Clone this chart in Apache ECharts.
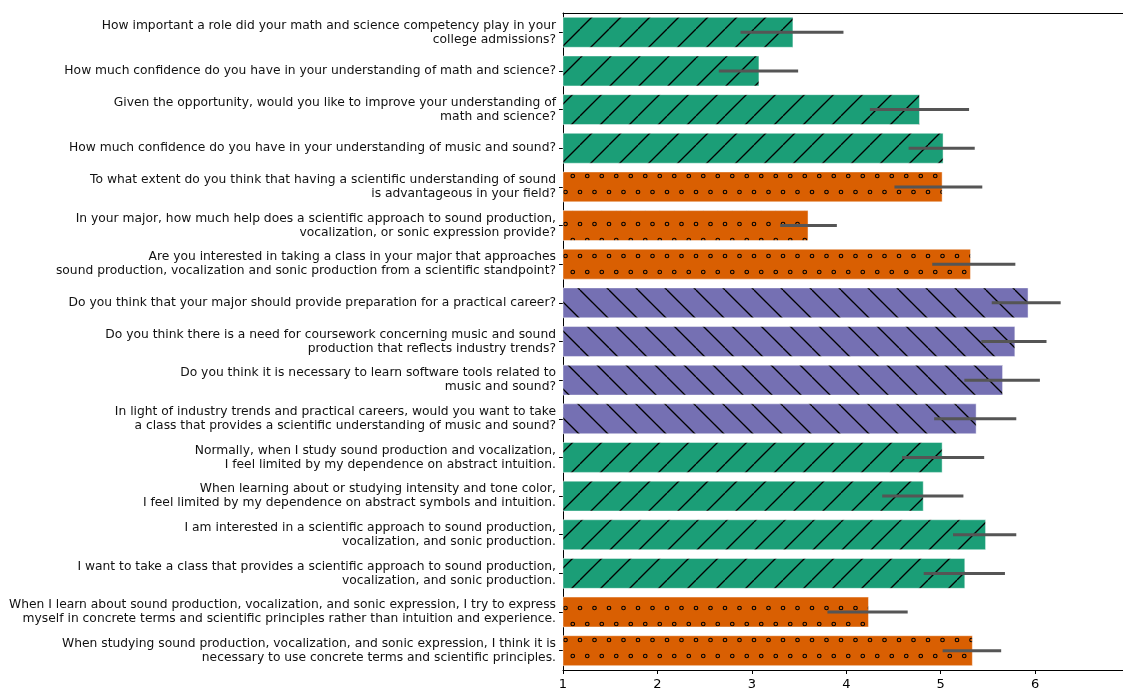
<!DOCTYPE html>
<html lang="en">
<head>
    <meta charset="UTF-8">
    <title>Survey responses</title>
    <script src="https://cdn.jsdelivr.net/npm/echarts@6/dist/echarts.min.js"></script>
    <style>
        body, html { margin: 0; padding: 0; height: 100%; background: #fff; }
        #main { width: 1123px; height: 692px; }
    </style>
</head>
<body>
    <div id="main"></div>
    <script>
        // questions, top to bottom
        var questions = [
            'How important a role did your math and science competency play in your\ncollege admissions?',
            'How much confidence do you have in your understanding of math and science?',
            'Given the opportunity, would you like to improve your understanding of\nmath and science?',
            'How much confidence do you have in your understanding of music and sound?',
            'To what extent do you think that having a scientific understanding of sound\nis advantageous in your field?',
            'In your major, how much help does a scientific approach to sound production,\nvocalization, or sonic expression provide?',
            'Are you interested in taking a class in your major that approaches\nsound production, vocalization and sonic production from a scientific standpoint?',
            'Do you think that your major should provide preparation for a practical career?',
            'Do you think there is a need for coursework concerning music and sound\nproduction that reflects industry trends?',
            'Do you think it is necessary to learn software tools related to\nmusic and sound?',
            'In light of industry trends and practical careers, would you want to take\na class that provides a scientific understanding of music and sound?',
            'Normally, when I study sound production and vocalization,\nI feel limited by my dependence on abstract intuition.',
            'When learning about or studying intensity and tone color,\nI feel limited by my dependence on abstract symbols and intuition.',
            'I am interested in a scientific approach to sound production,\nvocalization, and sonic production.',
            'I want to take a class that provides a scientific approach to sound production,\nvocalization, and sonic production.',
            'When I learn about sound production, vocalization, and sonic expression, I try to express\nmyself in concrete terms and scientific principles rather than intuition and experience.',
            'When studying sound production, vocalization, and sonic expression, I think it is\nnecessary to use concrete terms and scientific principles.'
        ];
        var means   = [3.44, 3.08, 4.78, 5.03, 5.02, 3.60, 5.32, 5.93, 5.79, 5.66, 5.38, 5.02, 4.82, 5.48, 5.26, 4.24, 5.34];
        var errLow  = [2.88, 2.65, 4.25, 4.66, 4.51, 3.30, 4.91, 5.54, 5.43, 5.25, 4.93, 4.59, 4.38, 5.13, 4.82, 3.80, 5.02];
        var errHigh = [3.97, 3.49, 5.30, 5.36, 5.44, 3.90, 5.79, 6.27, 6.12, 6.05, 5.80, 5.46, 5.24, 5.80, 5.68, 4.65, 5.64];
        var groups  = ['g', 'g', 'g', 'g', 'o', 'o', 'o', 'p', 'p', 'p', 'p', 'g', 'g', 'g', 'g', 'o', 'o'];
        var xTicks  = [1, 2, 3, 4, 5, 6];

        function makeTile(w, h, bg, draw) {
            var c = document.createElement('canvas');
            c.width = w;
            c.height = h;
            var ctx = c.getContext('2d');
            ctx.fillStyle = bg;
            ctx.fillRect(0, 0, w, h);
            ctx.strokeStyle = '#000';
            ctx.lineWidth = 1.3;
            draw(ctx, w, h);
            return { image: c, repeat: 'repeat' };
        }

        // '/' hatch
        var greenFill = makeTile(29, 29, '#1b9e77', function (ctx, w, h) {
            for (var k = -1; k <= 1; k++) {
                ctx.beginPath();
                ctx.moveTo(k * w, h);
                ctx.lineTo(k * w + w, 0);
                ctx.stroke();
            }
        });
        // '\' hatch
        var purpleFill = makeTile(29, 29, '#7570b3', function (ctx, w, h) {
            for (var k = -1; k <= 1; k++) {
                ctx.beginPath();
                ctx.moveTo(k * w, 0);
                ctx.lineTo(k * w + w, h);
                ctx.stroke();
            }
        });
        // small circles, staggered rows
        var orangeFill = makeTile(29, 32, '#d95f02', function (ctx, w, h) {
            ctx.lineWidth = 1.1;
            var pts = [[0, 0], [14.5, 0], [7.25, 16], [21.75, 16]];
            pts.forEach(function (p) {
                for (var dx = -1; dx <= 1; dx++) {
                    for (var dy = -1; dy <= 1; dy++) {
                        ctx.beginPath();
                        ctx.arc(p[0] + dx * w, p[1] + dy * h, 1.8, 0, Math.PI * 2);
                        ctx.stroke();
                    }
                }
            });
        });
        var fills = { g: greenFill, o: orangeFill, p: purpleFill };

        var barData = [];
        var errData = [];
        for (var i = 0; i < means.length; i++) {
            barData.push({
                value: means[i],
                itemStyle: { color: fills[groups[i]] }
            });
            errData.push([errLow[i], errHigh[i], i]);
        }

        var myChart = echarts.init(document.getElementById('main'));
        var option = {
            animation: false,
            textStyle: { fontFamily: 'DejaVu Sans' },
            grid: { left: 563, right: 0, top: 13, bottom: 22 },
            xAxis: [
                {
                    type: 'value',
                    min: 1,
                    max: 6.93,
                    interval: 1,
                    axisLine: { show: true, lineStyle: { color: '#000', width: 1 } },
                    axisTick: { show: true, length: 4, lineStyle: { color: '#000' } },
                    axisLabel: {
                        color: '#000', fontSize: 13, margin: 8, showMaxLabel: false,
                        formatter: function (v) { return xTicks.indexOf(v) >= 0 ? String(v) : ''; }
                    },
                    splitLine: { show: false }
                },
                {
                    type: 'value',
                    position: 'top',
                    min: 1,
                    max: 6.93,
                    axisLine: { show: true, lineStyle: { color: '#000', width: 1 } },
                    axisTick: { show: false },
                    axisLabel: { show: false },
                    splitLine: { show: false }
                }
            ],
            yAxis: {
                type: 'category',
                inverse: true,
                data: questions,
                axisLine: { show: true, lineStyle: { color: '#000', width: 1 } },
                axisTick: { show: true, alignWithLabel: true, length: 4, lineStyle: { color: '#000' } },
                axisLabel: {
                    color: '#111', fontSize: 12.3, lineHeight: 14, margin: 7,
                    interval: 0, align: 'right'
                }
            },
            series: [
                {
                    type: 'bar',
                    data: barData,
                    barWidth: '80%',
                    itemStyle: { borderColor: 'rgba(255,255,255,0.45)', borderWidth: 1 },
                    silent: true
                },
                {
                    type: 'custom',
                    data: errData,
                    encode: { x: [0, 1], y: 2 },
                    z: 5,
                    renderItem: function (params, api) {
                        var a = api.coord([api.value(0), api.value(2)]);
                        var b = api.coord([api.value(1), api.value(2)]);
                        return {
                            type: 'line',
                            shape: { x1: a[0], y1: a[1], x2: b[0], y2: b[1] },
                            style: { stroke: '#555555', lineWidth: 3 }
                        };
                    },
                    silent: true
                }
            ]
        };
        myChart.setOption(option);
    </script>
</body>
</html>
